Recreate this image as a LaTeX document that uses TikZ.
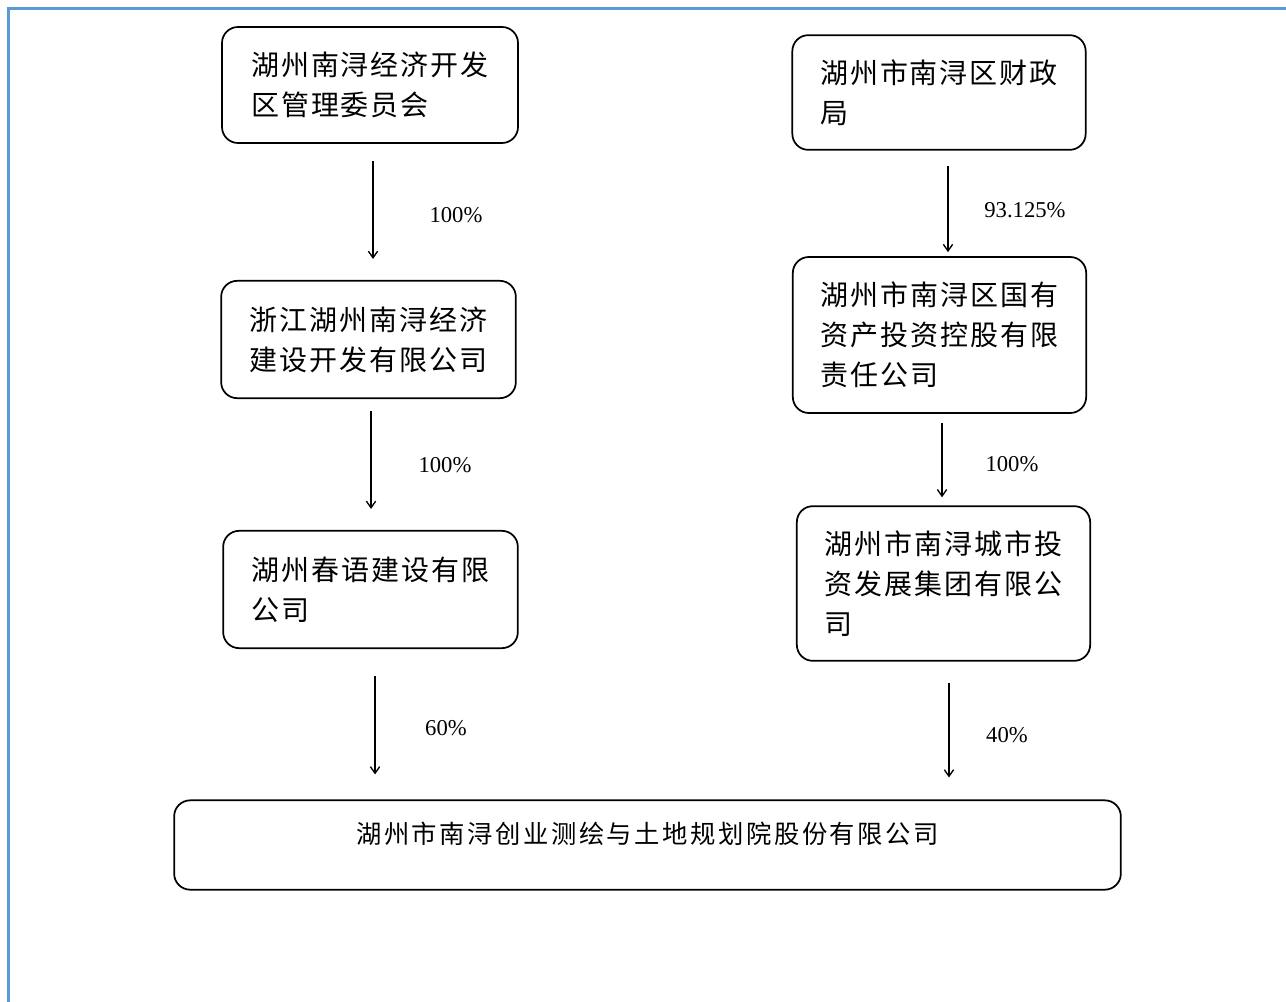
\documentclass[tikz,border=0pt]{standalone}
\usepackage{fontspec}
\setmainfont{Liberation Serif}
\newfontfamily\cjk{Noto Sans CJK SC}
\usepackage{tikz}
\usepackage{xcolor}
\usetikzlibrary{arrows.meta}
\definecolor{frameblue}{RGB}{91,155,213}

\begin{document}
\begin{tikzpicture}[x=0.75pt,y=-0.75pt,
    box/.style={shape=rectangle, draw, line width=1.3pt, rounded corners=12pt,
      align=left, inner sep=0pt,
      font=\cjk\addfontfeature{LetterSpace=7}\fontsize{21pt}{30pt}\selectfont},
    pct/.style={inner sep=0pt, font=\fontsize{17pt}{20pt}\selectfont},
    arr/.style={line width=1pt, -{Straight Barb[length=5pt,width=7pt]}}]
    \useasboundingbox (0,0) rectangle (1286,1002);
    \draw[frameblue, line width=1.6pt] (8.5,1002) -- (8.5,8.5) -- (1286,8.5);

    \node[box, minimum width=222pt, minimum height=87pt] (weihui) at (370,85)
      {湖州南浔经济开发\\区管理委员会};
    \node[box, minimum width=221pt, minimum height=88pt] (jianshe) at (368.5,339.5)
      {浙江湖州南浔经济\\建设开发有限公司};
    \node[box, minimum width=221pt, minimum height=88pt] (chunyu) at (370.5,589.5)
      {湖州春语建设有限\\公司};
    \node[box, minimum width=220pt, minimum height=86pt] (caizheng) at (939,92.5)
      {湖州市南浔区财政\\局};
    \node[box, minimum width=220pt, minimum height=117pt] (guozi) at (939.5,335)
      {湖州市南浔区国有\\资产投资控股有限\\责任公司};
    \node[box, minimum width=220pt, minimum height=116pt] (chengtou) at (943.5,583.5)
      {湖州市南浔城市投\\资发展集团有限公\\司};
    \node[box, minimum width=710pt, text height=32pt, text depth=35pt,
      font=\cjk\addfontfeature{LetterSpace=10}\fontsize{19pt}{24pt}\selectfont]
      (chuangye) at (647.5,845) {湖州市南浔创业测绘与土地规划院股份有限公司};

    \draw[arr, shorten <=12.75pt, shorten >=15.75pt]
      ([xshift=2.25pt]weihui.south) -- ([xshift=2.25pt]weihui.south |- jianshe.north);
    \draw[arr, shorten <=9pt, shorten >=15.75pt]
      ([xshift=1.9pt]jianshe.south) -- ([xshift=1.9pt]jianshe.south |- chunyu.north);
    \draw[arr, shorten <=20.25pt, shorten >=18.75pt]
      ([xshift=3.4pt]chunyu.south) -- ([xshift=3.4pt]chunyu.south |- chuangye.north);
    \draw[arr, shorten <=11.25pt, shorten >=3pt]
      ([xshift=6.75pt]caizheng.south) -- ([xshift=6.75pt]caizheng.south |- guozi.north);
    \draw[arr, shorten <=6.75pt, shorten >=6pt]
      ([xshift=1.9pt]guozi.south) -- ([xshift=1.9pt]guozi.south |- chengtou.north);
    \draw[arr, shorten <=15.75pt, shorten >=16.5pt]
      ([xshift=4.1pt]chengtou.south) -- ([xshift=4.1pt]chengtou.south |- chuangye.north);

    \node[pct] (p1) at (456,215) {100\%};
    \node[pct] (p2) at (445,465) {100\%};
    \node[pct] (p3) at (446,728) {60\%};
    \node[pct] (p4) at (1025,210) {93.125\%};
    \node[pct] (p5) at (1012,464) {100\%};
    \node[pct] (p6) at (1007,735) {40\%};
\end{tikzpicture}
\end{document}
